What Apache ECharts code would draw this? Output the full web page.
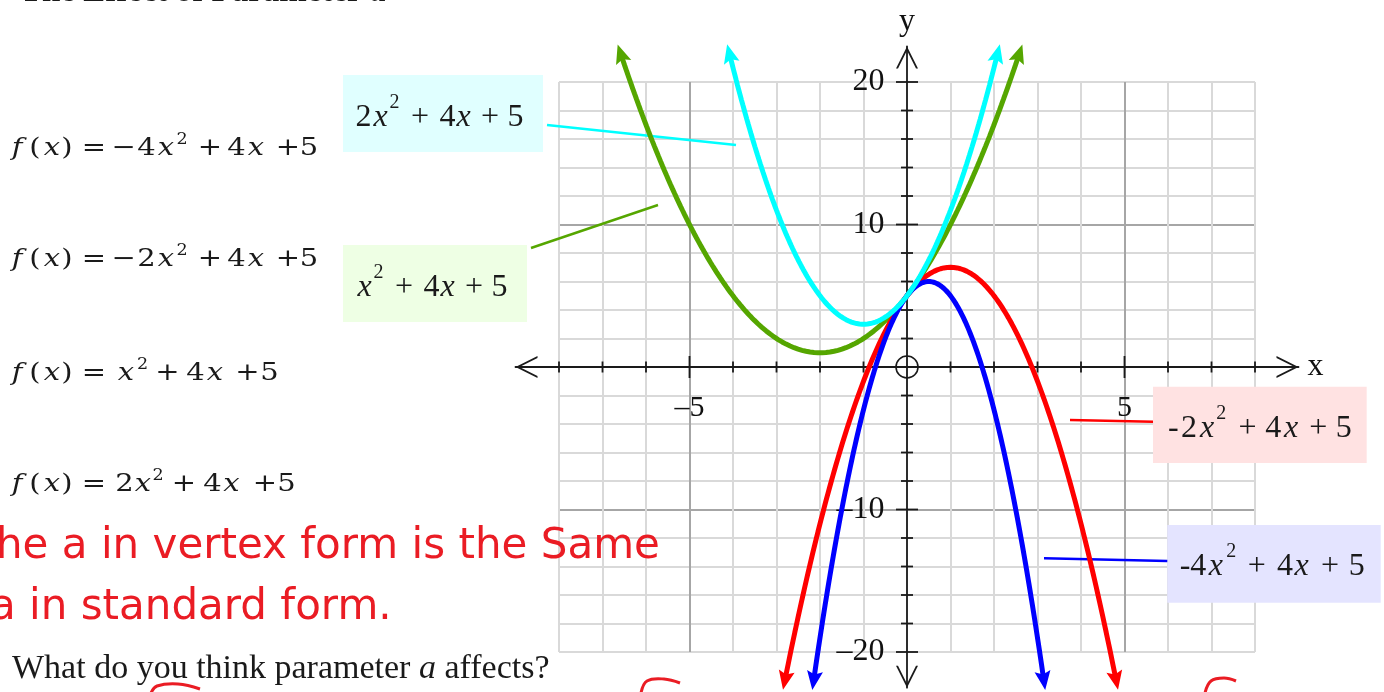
<!DOCTYPE html>
<html>
<head>
<meta charset="utf-8">
<script src="https://cdn.jsdelivr.net/npm/echarts@6/dist/echarts.min.js"></script>
<style>
  html, body { margin: 0; padding: 0; background: #ffffff; }
  #chart { width: 1384px; height: 692px; }
</style>
</head>
<body>
<div id="chart"></div>
<script>
// Quadratic family f(x) = a x^2 + b x + c, one entry per curve
const curveLabels = ['x\u00b2 + 4x + 5', '-2x\u00b2 + 4x + 5', '-4x\u00b2 + 4x + 5', '2x\u00b2 + 4x + 5'];
const coefA = [1, -2, -4, 2];
const coefB = [4, 4, 4, 4];
const coefC = [5, 5, 5, 5];
const curveColors = ['#55a600', '#ff0000', '#0000ff', '#00ffff'];

// Axis ticks and labels
const xTickValues = [-8, -7, -6, -5, -4, -3, -2, -1, 1, 2, 3, 4, 5, 6, 7, 8];
const xMajorTicks = [-5, 5];
const yTickValues = [-20, -18, -16, -14, -12, -10, -8, -6, -4, -2, 2, 4, 6, 8, 10, 12, 14, 16, 18, 20];
const yMajorTicks = [-20, -10, 10, 20];
const xLabelValues = [-5, 5];
const yLabelValues = [-20, -10, 10, 20];

// Curves are traced until they leave the drawing at |y| = 22
const CURVE_REACH = 22;

// ---- layout -------------------------------------------------------------
const OX = 907, OY = 367;      // pixel position of the origin
const KX = 43.5, KY = 14.25;   // pixels per unit along x and y
const GRID_X = [-8, 8], GRID_Y = [-20, 20];
const AXIS_X = [-9, 9], AXIS_Y = [-22.5, 22.5];

const MINOR = '#d9d9d9', MAJOR = '#a6a6a6', INK = '#1a1a1a', PEN = '#ea1c24';
const SERIF = '"Liberation Serif", "Times New Roman", serif';
const MATH = '"DejaVu Serif", serif';
const HAND = '"DejaVu Sans", sans-serif';
const MID = { 'Liberation Serif': 0.3375, 'DejaVu Serif': 0.346, 'DejaVu Sans': 0.346 };

const CHEVRON = 'path://M11,0 L22,22 L20,22 L11,4 L2,22 L0,22 Z';
const ARROW_HEAD = 'path://M8,0 L16,19 L8,15.5 L0,19 Z';

function gridRect(xr, yr) {
  return {
    left: OX + xr[0] * KX, top: OY - yr[1] * KY,
    width: (xr[1] - xr[0]) * KX, height: (yr[1] - yr[0]) * KY,
    containLabel: false, outerBoundsMode: 'none'
  };
}

function splitColors(lo, hi, step, majors) {
  const out = [];
  for (let v = lo; v <= hi + 1e-9; v += step) out.push(majors.indexOf(v) >= 0 ? MAJOR : MINOR);
  return out;
}

function dashMinus(v) { return v < 0 ? '\u2013' + Math.abs(v) : String(v); }

// ---- curves --------------------------------------------------------------
function arrowRotation(a, b, x, dir) {
  const slope = 2 * a * x + b;
  return Math.atan2(dir * KY * slope, dir * KX) * 180 / Math.PI - 90;
}

function curveData(i) {
  const a = coefA[i], b = coefB[i], c = coefC[i];
  const yEnd = a > 0 ? CURVE_REACH : -CURVE_REACH;
  const disc = Math.sqrt(b * b - 4 * a * (c - yEnd));
  const r1 = (-b - disc) / (2 * a), r2 = (-b + disc) / (2 * a);
  const x0 = Math.min(r1, r2), x1 = Math.max(r1, r2);
  const n = 200, pts = [];
  for (let k = 0; k <= n; k++) {
    const x = x0 + (x1 - x0) * k / n;
    pts.push([x, a * x * x + b * x + c]);
  }
  const head = (p, dir) => ({
    value: p, symbol: ARROW_HEAD, symbolSize: [16, 19], symbolKeepAspect: false,
    symbolRotate: arrowRotation(a, b, p[0], dir)
  });
  const data = pts.map(p => p);
  data[0] = head(pts[0], -1);
  data[n] = head(pts[n], 1);
  return data;
}

const curveOrder = [0, 1, 2, 3];
const curveSeries = curveOrder.map((i, k) => ({
  name: curveLabels[i], type: 'line', xAxisIndex: 1, yAxisIndex: 1,
  data: curveData(i), symbol: 'none', showSymbol: true, smooth: false,
  lineStyle: { color: curveColors[i], width: 5 },
  itemStyle: { color: curveColors[i], opacity: 1 },
  silent: true, z: 4 + k
}));

// ---- ticks, tick labels and origin ring ----------------------------------
const labelFont = { fontFamily: '"Liberation Serif", serif', color: '#111111', opacity: 1 };
const markBase = { type: 'scatter', xAxisIndex: 1, yAxisIndex: 1, silent: true, z: 3 };
const markSeries = [
  Object.assign({}, markBase, {
    data: xTickValues.map(v => ({ value: [v, 0], symbolSize: xMajorTicks.indexOf(v) >= 0 ? [1.8, 22] : [1.8, 11] })),
    symbol: 'rect', itemStyle: { color: INK, opacity: 1 }
  }),
  Object.assign({}, markBase, {
    data: yTickValues.map(v => ({ value: [0, v], symbolSize: yMajorTicks.indexOf(v) >= 0 ? [22, 1.8] : [12, 1.8] })),
    symbol: 'rect', itemStyle: { color: INK, opacity: 1 }
  }),
  Object.assign({}, markBase, {
    data: [[0, 0]], symbol: 'circle', symbolSize: 22,
    itemStyle: { color: 'rgba(0,0,0,0)', borderColor: INK, borderWidth: 1.6, opacity: 1 }
  }),
  Object.assign({}, markBase, {
    data: xLabelValues.map(v => [v, 0]), symbol: 'circle', symbolSize: 1,
    itemStyle: { color: 'rgba(0,0,0,0)', opacity: 1 },
    label: Object.assign({ show: true, position: 'bottom', distance: 26, fontSize: 30,
      formatter: p => dashMinus(p.value[0]) }, labelFont)
  }),
  Object.assign({}, markBase, {
    data: yLabelValues.map(v => [0, v]), symbol: 'circle', symbolSize: 1,
    itemStyle: { color: 'rgba(0,0,0,0)', opacity: 1 },
    label: Object.assign({ show: true, position: 'left', distance: 22, fontSize: 32,
      formatter: p => dashMinus(p.value[1]) }, labelFont)
  })
];

// ---- text helpers (pixel layout) -------------------------------------------
function fam(f) { return f.split(',')[0].replace(/"/g, ''); }
function txt(t, x, base, size, family, opt) {
  opt = opt || {};
  return {
    type: 'text', z: opt.z || 6, silent: true,
    x: x, y: base - MID[fam(family)] * size, scaleX: opt.scaleX || 1,
    style: {
      text: t, fill: opt.fill || INK,
      font: (opt.italic ? 'italic ' : '') + (opt.bold ? 'bold ' : '') + size + 'px ' + family,
      align: opt.align || 'center', verticalAlign: 'middle',
      rich: opt.rich
    }
  };
}

// formula rows on the left: [glyph, centre x, kind]  (i = italic, s = superscript)
const FX = [['f', 17, 'i'], ['(', 35], ['x', 52, 'i'], [')', 67], ['=', 94]];
const formulaRows = [
  { base: 156.7, glyphs: FX.concat([['\u2212', 124], ['4', 146.5], ['x', 166, 'i'], ['2', 182, 's'], ['+', 210], ['4', 236.5], ['x', 256, 'i'], ['+', 288], ['5', 309]]) },
  { base: 268.3, glyphs: FX.concat([['\u2212', 124], ['2', 146.5], ['x', 166, 'i'], ['2', 182, 's'], ['+', 210], ['4', 236.5], ['x', 256, 'i'], ['+', 288], ['5', 309]]) },
  { base: 381.7, glyphs: FX.concat([['x', 126, 'i'], ['2', 142.5, 's'], ['+', 167.5], ['4', 195.5], ['x', 215, 'i'], ['+', 247.5], ['5', 269.5]]) },
  { base: 493.3, glyphs: FX.concat([['2', 124.5], ['x', 143, 'i'], ['2', 158, 's'], ['+', 184], ['4', 212.5], ['x', 231.5, 'i'], ['+', 265], ['5', 286.5]]) }
];

// labelled boxes next to the curves
const boxes = [
  { rect: [343, 75, 200, 77], fill: '#e0ffff', base: 128, stroke: '#00ffff', lead: [547, 125, 736, 145],
    glyphs: [['2', 363.5], ['x', 380.5, 'i'], ['2', 394.5, 's'], ['+', 420], ['4', 447.5], ['x', 463.5, 'i'], ['+', 490], ['5', 515.5]] },
  { rect: [343, 245, 184, 77], fill: '#eeffe4', base: 298, stroke: '#55a600', lead: [531, 248, 658, 205],
    glyphs: [['x', 364.5, 'i'], ['2', 378.5, 's'], ['+', 404], ['4', 431.5], ['x', 447.5, 'i'], ['+', 474], ['5', 499.5]] },
  { rect: [1153, 386.7, 213.7, 76.3], fill: '#ffe2e2', base: 439, stroke: '#ff0000', lead: [1070, 420, 1153, 421.7],
    glyphs: [['-', 1173.3], ['2', 1189], ['x', 1207, 'i'], ['2', 1221.3, 's'], ['+', 1247.5], ['4', 1273.3], ['x', 1291, 'i'], ['+', 1318.3], ['5', 1343.7]] },
  { rect: [1167.3, 525, 213.4, 77.7], fill: '#e4e4ff', base: 577.3, stroke: '#0000ff', lead: [1044, 558.3, 1167.3, 561],
    glyphs: [['-', 1185], ['4', 1198.3], ['x', 1215.8, 'i'], ['2', 1231.3, 's'], ['+', 1256.7], ['4', 1285], ['x', 1301.7, 'i'], ['+', 1330], ['5', 1356.7]] }
];

const graphics = [];

// title, cut by the top edge
graphics.push(txt('The Effect of Parameter {a|a}', 20, 4, 33, SERIF, {
  bold: true, align: 'left',
  rich: { a: { fontStyle: 'italic', fontWeight: 'bold', fontSize: 33, fontFamily: SERIF, fill: INK } }
}));

formulaRows.forEach(row => {
  row.glyphs.forEach(g => {
    if (g[2] === 's') graphics.push(txt(g[0], g[1], row.base - 11.5, 16, MATH, { scaleX: 1.1 }));
    else graphics.push(txt(g[0], g[1], row.base, 25, MATH, { italic: g[2] === 'i', scaleX: 1.16 }));
  });
});

boxes.forEach(bx => {
  graphics.push({ type: 'rect', z: 1, silent: true,
    shape: { x: bx.rect[0], y: bx.rect[1], width: bx.rect[2], height: bx.rect[3] },
    style: { fill: bx.fill } });
  graphics.push({ type: 'line', z: 1, silent: true,
    shape: { x1: bx.lead[0], y1: bx.lead[1], x2: bx.lead[2], y2: bx.lead[3] },
    style: { stroke: bx.stroke, lineWidth: 2.4 } });
  bx.glyphs.forEach(g => {
    if (g[2] === 's') graphics.push(txt(g[0], g[1], bx.base - 18.8, 20, SERIF));
    else graphics.push(txt(g[0], g[1], bx.base, 32, SERIF, { italic: g[2] === 'i' }));
  });
});

// handwritten note
graphics.push(txt('he a in vertex form is the Same', -4, 562, 42, HAND, { align: 'left', fill: PEN }));
graphics.push(txt('a in standard form.', -10, 623, 42, HAND, { align: 'left', fill: PEN }));

// question under the formulas
graphics.push(txt('What do you think parameter {a|a} affects?', 12, 681, 34, SERIF, {
  align: 'left',
  rich: { a: { fontStyle: 'italic', fontSize: 34, fontFamily: SERIF, fill: INK } }
}));

// pen strokes entering from the bottom edge
[
  [[151, 693], [157, 686], [178, 684], [200, 689]],
  [[641, 693], [647, 681], [664, 679], [680, 683]],
  [[1205, 693], [1211, 681], [1224, 678], [1236, 681]]
].forEach(pts => graphics.push({
  type: 'polyline', z: 6, silent: true, shape: { points: pts, smooth: 0.4 },
  style: { stroke: PEN, lineWidth: 3, fill: null }
}));

// ---- chart -----------------------------------------------------------------
const nameFont = { fontFamily: '"Liberation Serif", serif', color: '#111111' };
const option = {
  animation: false,
  backgroundColor: '#ffffff',
  grid: [gridRect(GRID_X, GRID_Y), gridRect(AXIS_X, AXIS_Y)],
  xAxis: [
    {
      gridIndex: 0, type: 'value', min: GRID_X[0], max: GRID_X[1], interval: 1,
      axisLine: { show: false }, axisTick: { show: false }, axisLabel: { show: false },
      splitLine: { show: true, lineStyle: { color: splitColors(GRID_X[0], GRID_X[1], 1, [-5, 5]), width: 2 } }
    },
    {
      gridIndex: 1, type: 'value', min: AXIS_X[0], max: AXIS_X[1],
      axisLine: { show: true, onZero: true, symbol: [CHEVRON, CHEVRON], symbolSize: [22, 22], symbolOffset: [11, -11],
        lineStyle: { color: INK, width: 1.8 } },
      axisTick: { show: false }, splitLine: { show: false }, axisLabel: { show: false },
      name: 'x', nameLocation: 'end', nameGap: 9,
      nameTextStyle: Object.assign({ fontSize: 32, verticalAlign: 'middle', align: 'left' }, nameFont)
    }
  ],
  yAxis: [
    {
      gridIndex: 0, type: 'value', min: GRID_Y[0], max: GRID_Y[1], interval: 2,
      axisLine: { show: false }, axisTick: { show: false }, axisLabel: { show: false },
      splitLine: { show: true, lineStyle: { color: splitColors(GRID_Y[0], GRID_Y[1], 2, [-10, 10]), width: 2 } }
    },
    {
      gridIndex: 1, type: 'value', min: AXIS_Y[0], max: AXIS_Y[1],
      axisLine: { show: true, onZero: true, symbol: [CHEVRON, CHEVRON], symbolSize: [22, 22], symbolOffset: [11, -11],
        lineStyle: { color: INK, width: 1.8 } },
      axisTick: { show: false }, splitLine: { show: false }, axisLabel: { show: false },
      name: 'y', nameLocation: 'end', nameGap: 9,
      nameTextStyle: Object.assign({ fontSize: 32 }, nameFont)
    }
  ],
  series: markSeries.concat(curveSeries),
  graphic: { elements: graphics }
};

const chart = echarts.init(document.getElementById('chart'));
chart.setOption(option);
</script>
</body>
</html>
